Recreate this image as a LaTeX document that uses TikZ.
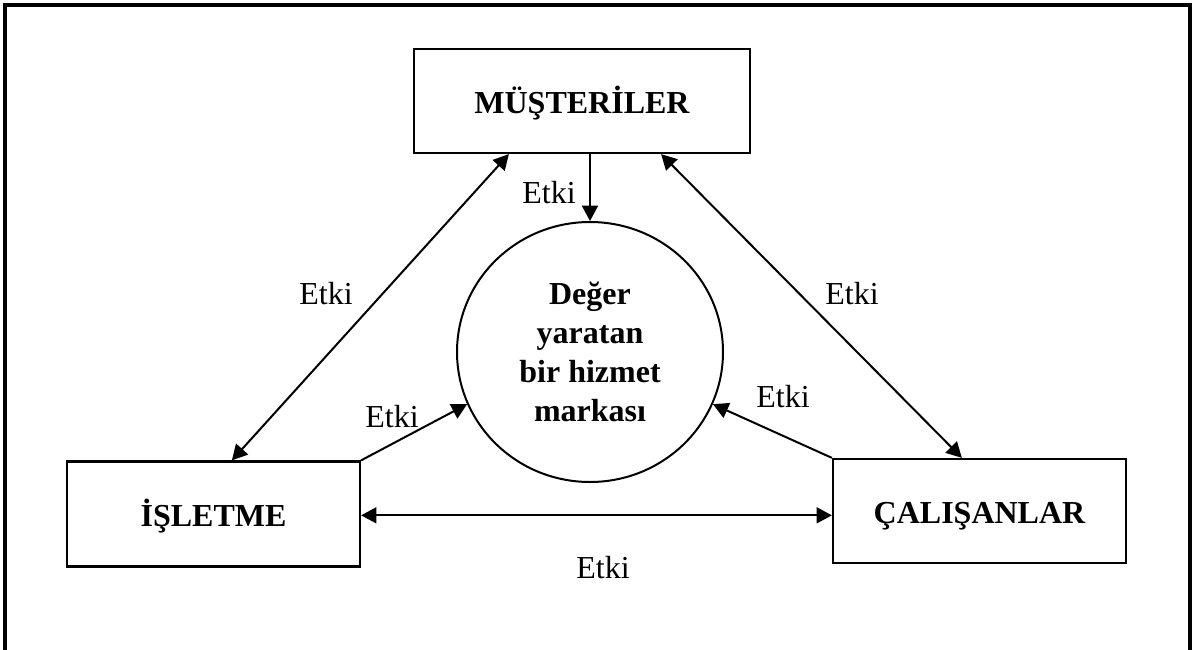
\documentclass[tikz,border=0pt]{standalone}
\usepackage{fontspec}
\setmainfont{Liberation Serif}
\usetikzlibrary{calc,arrows.meta,shapes.geometric}
\begin{document}
\begin{tikzpicture}[x=0.75pt,y=-0.75pt,
  box/.style={draw,line width=1.7pt,rectangle,inner sep=0pt,
    font=\fontsize{24}{29}\selectfont\bfseries,text height=19.4pt,text depth=0pt},
  hub/.style={draw,ellipse,line width=1.5pt,inner sep=0pt,align=center,
    font=\fontsize{24}{29.25}\selectfont\bfseries},
  tip/.tip={Triangle[length=11.5pt,width=12pt]},
  link/.style={line width=1.5pt,-tip},
  both/.style={line width=1.5pt,tip-tip},
  lbl/.style={anchor=base,inner sep=0pt,font=\fontsize{24}{29}\selectfont}]
\useasboundingbox (0,0) rectangle (1193,650);

% page frame (open at the bottom)
\draw[line width=2.5pt] (5,670) -- (5,5) -- (1190,5) -- (1190,670);

% the three parties and the brand
\node[box,minimum width=252pt,minimum height=78pt] (cust) at (582,101) {MÜŞTERİLER};
\node[box,minimum width=219.75pt,minimum height=78.75pt] (firm) at (213.5,514) {İŞLETME};
\node[box,minimum width=219.75pt,minimum height=78pt] (staff) at (979.5,511) {ÇALIŞANLAR};
\node[hub,minimum width=199.5pt,minimum height=195pt] (brand) at (590,352)
  {Değer\\yaratan\\bir hizmet\\markası};

% influences
\draw[link] (brand.north |- cust.south) -- (brand.north);
\draw[both] ($(cust.south west)+(96,0)$) -- ($(firm.north west)+(166,0)$);
\draw[both] ($(cust.south east)+(-90,0)$) -- ($(staff.north west)+(130,0)$);
\draw[link] (firm.north east) -- (brand.203.5);
\draw[link] (staff.north west) -- (brand.337);
\draw[both] ([yshift=-1pt]firm.east) -- ([yshift=-1pt]firm.east -| staff.west);

% labels
\node[lbl] (l1) at (549,203) {Etki};
\node[lbl] (l2) at (326,304) {Etki};
\node[lbl] (l3) at (852,304) {Etki};
\node[lbl] (l4) at (392,427) {Etki};
\node[lbl] (l5) at (783,407) {Etki};
\node[lbl] (l6) at (603,578) {Etki};
\end{tikzpicture}
\end{document}
